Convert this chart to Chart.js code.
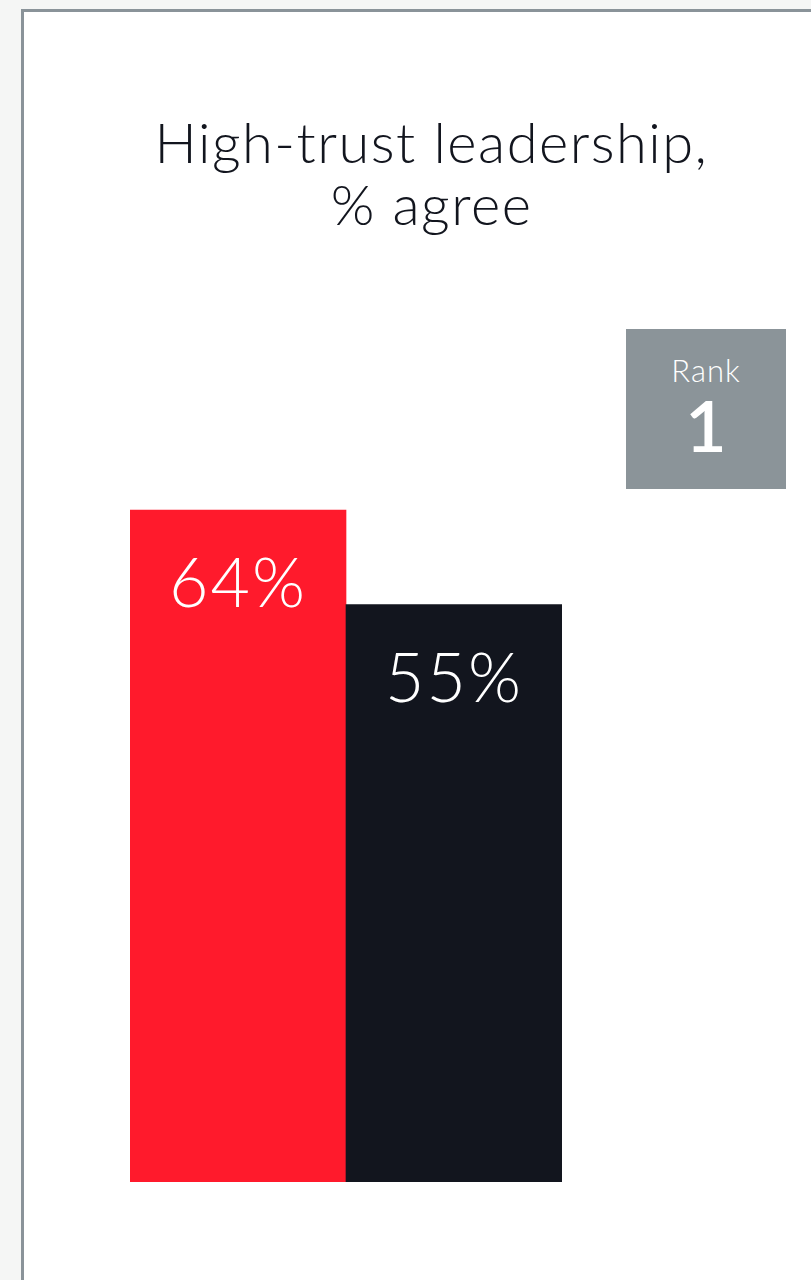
<!DOCTYPE html>
<html>
<head>
<meta charset="utf-8">
<script src="https://cdn.jsdelivr.net/npm/chart.js@4"></script>
<style>
  html, body { margin: 0; padding: 0; background: #f5f6f5; overflow: hidden; }
  body { width: 811px; height: 1280px; position: relative; }
  #card {
    position: absolute; left: 21px; top: 9px; width: 900px; height: 1400px;
    background: #fff; border-left: 3px solid #8a9399; border-top: 3px solid #8a9399;
  }
  #chart { position: absolute; left: 25px; top: 13px; }
  #rank {
    position: absolute; left: 626px; top: 329px; width: 160px; height: 160px;
    background: #8b9499; color: #fff; text-align: center; font-family: Lato, sans-serif;
  }
  #rank .lbl { position: absolute; left: 0; right: 0; top: 22px; font-size: 31px; font-weight: 300; letter-spacing: 1px; }
  #rank .num { position: absolute; left: 0; right: 0; top: 52px; font-size: 72px; font-weight: 600; }
</style>
</head>
<body>
<div id="card"></div>
<canvas id="chart" width="811" height="1267"></canvas>
<div id="rank"><div class="lbl">Rank</div><div class="num">1</div></div>
<script>
var titleLines = ['High-trust leadership,', '% agree'];
var groups = ['Organisation', 'Benchmark'];
var agree = [64, 55];
var barColors = ['#ff1a2c', '#12151e'];

// title centred on the whole card, not on the bars
var cardTitle = {
    id: 'cardTitle',
    afterDraw: function (chart) {
        var ctx = chart.ctx;
        ctx.save();
        ctx.fillStyle = '#12151e';
        ctx.font = '300 56px Lato, sans-serif';
        ctx.letterSpacing = '1.5px';
        ctx.textAlign = 'center';
        ctx.textBaseline = 'alphabetic';
        titleLines.forEach(function (line, i) {
            ctx.fillText(line, chart.width / 2 + 1, 150 + i * 62);
        });
        ctx.restore();
    }
};

// white % label drawn inside each bar, under its top edge
var valueLabels = {
    id: 'valueLabels',
    afterDatasetsDraw: function (chart) {
        var ctx = chart.ctx;
        var meta = chart.getDatasetMeta(0);
        ctx.save();
        ctx.fillStyle = '#ffffff';
        ctx.font = '300 68px Lato, sans-serif';
        ctx.letterSpacing = '2px';
        ctx.textAlign = 'center';
        ctx.textBaseline = 'alphabetic';
        meta.data.forEach(function (bar, i) {
            ctx.fillText(agree[i] + '%', bar.x, bar.y + 97);
        });
        ctx.restore();
    }
};

var ctx = document.getElementById('chart').getContext('2d');
var chart = new Chart(ctx, {
    type: 'bar',
    data: {
        labels: groups,
        datasets: [{
            data: agree,
            backgroundColor: barColors,
            borderWidth: 0,
            categoryPercentage: 1,
            barPercentage: 1
        }]
    },
    options: {
        responsive: false,
        animation: false,
        devicePixelRatio: 1,
        layout: { padding: { left: 105, right: 274, top: 287, bottom: 98 } },
        scales: {
            x: { display: false, grid: { display: false } },
            y: { display: false, min: 0, max: 84, grid: { display: false } }
        },
        plugins: {
            legend: { display: false },
            tooltip: { enabled: false },
            title: { display: false }
        }
    },
    plugins: [valueLabels, cardTitle]
});
</script>
</body>
</html>
